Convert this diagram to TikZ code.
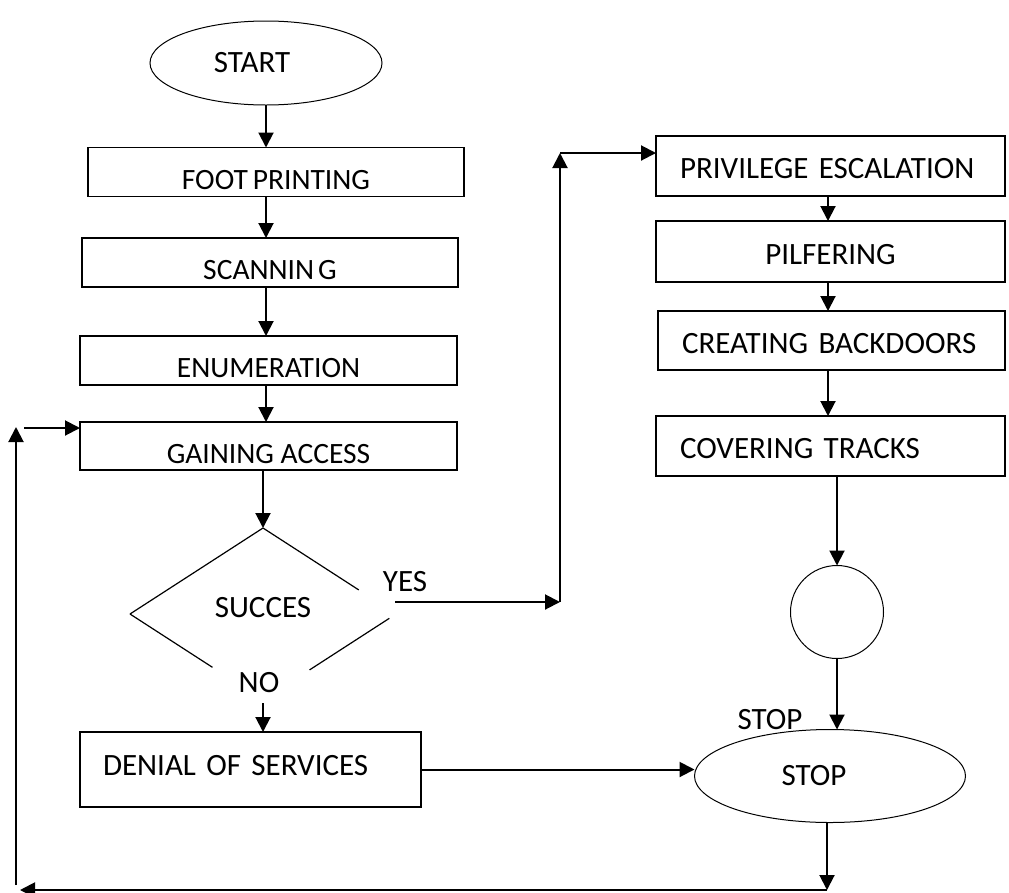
\documentclass[tikz,border=0pt]{standalone}
\usepackage{fontspec}
\setmainfont{Carlito}
\usetikzlibrary{arrows.meta,shapes,calc}

\begin{document}
\begin{tikzpicture}[x=1pt,y=-1pt,>={Triangle[length=15pt,width=15pt]},
font=\fontsize{31}{37}\selectfont,
stepbox/.style={draw,line width=1.4pt,inner sep=0pt,outer sep=0pt},
leftbox/.style={stepbox,minimum width=376pt,minimum height=49pt,text height=34pt,text depth=0pt,font=\fontsize{29.5}{35}\selectfont},
rightbox/.style={stepbox,minimum height=60pt,inner xsep=24pt,text width=301pt,align=left,text height=25pt,text depth=0pt},
oval/.style={draw,ellipse,line width=1pt,inner sep=0pt,outer sep=0pt},
flow/.style={->,line width=2pt}]
\useasboundingbox(0,0)rectangle(1009,892);
\node[oval,minimum width=232pt,minimum height=84pt,label={[xshift=-14pt]center:START}](start)at(266,63){};
\node[leftbox](foot)at(276,172){FOOT\hspace{5pt}PRINTING};
\node[leftbox](scan)at(270,262.5){SCANNIN\hspace{4pt}G};
\node[leftbox,minimum width=377pt](enum)at(268.5,360.5){ENUMERATION};
\node[leftbox,minimum width=377pt,minimum height=48pt](gain)at(268.5,446){GAINING ACCESS};
\node[diamond,inner sep=0pt,outer sep=0pt,minimum width=266pt,minimum height=172pt,text height=20pt,text depth=14pt](succ)at(263,614){SUCCES};
\node(yes)at(405,582){YES};
\node[inner ysep=11pt,text height=20pt,text depth=0pt](no)at(259,682){NO};
\node[stepbox,minimum width=341pt,minimum height=75pt,inner xsep=23pt,text width=295pt,align=left,text height=20pt,text depth=9pt](denial)at(250.5,769.5){DENIAL OF SERVICES};
\node[rightbox](priv)at(830.5,166){PRIVILEGE ESCALATION};
\node[rightbox,align=center,minimum height=61pt](pilf)at(830.5,251.5){PILFERING};
\node[rightbox,minimum height=59pt,text width=299pt](creat)at(831.5,340.5){CREATING BACKDOORS};
\node[rightbox](cover)at(830.5,446){COVERING TRACKS};
\node[draw,circle,line width=1pt,minimum size=93pt,inner sep=0pt,outer sep=0pt](circ)at(837,612){};
\node[oval,minimum width=271pt,minimum height=93pt,label={[xshift=-16pt]center:STOP}](stop)at(830,776){};
\node(stoplbl)at(770,720){STOP};
\coordinate(spine)at(266,0);
\coordinate(rspine)at(828,0);
\coordinate(yesup)at(560,602);
\coordinate(yestop)at(560,153);
\coordinate(loopdown)at(827,890);
\coordinate(loopleft)at(20,890);
\coordinate(loopbot)at(16,885);
\coordinate(looptop)at(16,427);
\coordinate(loopin)at(24,428);
% diamond drawn with gaps for the YES and NO labels
\draw[line width=1.2pt](succ.west)--(succ.north)--($(succ.north)!0.72!(succ.east)$);
\draw[line width=1.2pt]($(succ.east)!0.05!(succ.south)$)--($(succ.east)!0.65!(succ.south)$);
\draw[line width=1.2pt](succ.west)--($(succ.west)!0.62!(succ.south)$);
% left column
\draw[flow](start.south-|spine)--(foot.north-|spine);
\draw[flow](foot.south-|spine)--(scan.north-|spine);
\draw[flow](scan.south-|spine)--(enum.north-|spine);
\draw[flow](enum.south-|spine)--(gain.north-|spine);
\draw[flow](gain.south-|succ.north)--(succ.north);
\draw[flow](no.south-|succ.south)--(denial.north-|succ.south);
% yes branch
\draw[flow]($(succ.east)+(-1,-12)$)--(yesup);
\draw[flow](yesup)--(yestop);
\draw[flow](yestop)--(yestop-|priv.west);
% right column
\draw[flow](priv.south-|rspine)--(pilf.north-|rspine);
\draw[flow](pilf.south-|rspine)--(creat.north-|rspine);
\draw[flow](creat.south-|rspine)--(cover.north-|rspine);
\draw[flow](cover.south-|circ.north)--(circ.north);
\draw[flow](circ.south)--(circ.south|-stop.north);
\draw[flow](denial.east)--(denial.east-|stop.west);
% loop back to gaining access
\draw[flow](stop.south-|loopdown)--(loopdown);
\draw[flow](loopdown)--(loopleft);
\draw[flow](loopbot)--(looptop);
\draw[flow](loopin)--(loopin-|gain.west);
\end{tikzpicture}
\end{document}
